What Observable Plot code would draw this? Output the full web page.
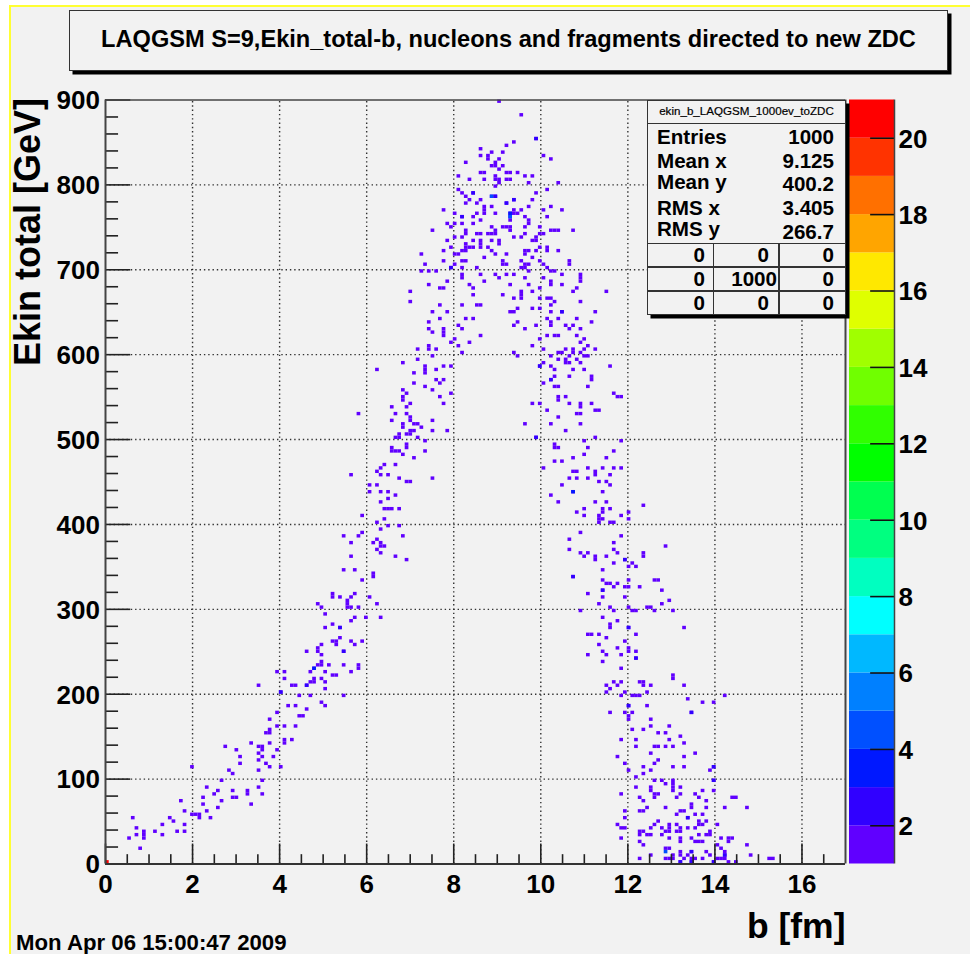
<!DOCTYPE html>
<html><head><meta charset="utf-8">
<script src="https://cdn.jsdelivr.net/npm/d3@7"></script>
<script src="https://cdn.jsdelivr.net/npm/@observablehq/plot@0.6"></script>
<style>
html,body{margin:0;padding:0;background:#fff}
#page{position:relative;width:970px;height:954px;overflow:hidden;background:#f2f2f2;font-family:"Liberation Sans",Arial,sans-serif;font-weight:bold;color:#000}
#page svg{position:absolute;left:0;top:0;background:transparent}
.abs{position:absolute;white-space:nowrap}
.bg{position:absolute;background:#fff}
.yl{position:absolute;background:#ffff33}
.box{position:absolute;background:#f2f2f2;border:1.5px solid #333;box-shadow:3.5px 3.5px 0 #000;box-sizing:border-box}
.line{position:absolute;background:#333}
</style></head><body><div id="page"></div>
<script>
// Ekin total vs b histogram cells as [b (fm), Ekin (GeV)] flat pairs
const lowLeft = [0.63,53,.71,41,.54,30,.71,34,.88,37,.88,32,.88,28,.80,17,1.13,37,1.31,46,1.31,34,1.48,53,1.56,50,1.66,37,1.82,46,1.82,37,1.82,62,1.73,74,1.99,58,2.08,58,2.16,58,2.16,53,2.25,78,2.25,69,2.34,62,2.42,53,2.34,90,2.51,81,2.59,85,2.59,66,2.67,74,2.67,98,2.93,85,2.93,78,3.02,78,3.27,85,3.27,81,3.36,69,3.50,90,3.59,81,3.59,98,1.99,114,2.76,138,2.85,110,2.93,106,3.02,133,3.10,126,3.10,118,3.36,142,3.50,138,3.59,138,3.59,133,3.50,130,3.59,126,3.50,122,3.50,110,3.67,118,3.75,114,3.84,126,3.93,133,3.75,142,4.02,114,4.10,146,4.10,142,4.27,146,4.36,161,4.10,161,3.93,161,3.67,154,3.75,154,3.75,157,3.75,170,3.93,177,4.18,186,4.36,186,4.61,182,4.44,174,4.53,174,4.95,190,5.04,186];
const midLeft = [5.47,346,5.72,346,6.15,342,6.15,338,5.89,334,5.21,318,5.21,314,5.38,314,5.63,314,5.72,318,6.06,314,5.55,310,5.55,306,5.55,302,5.63,302,4.87,306,4.96,302,5.81,302,6.23,306,5.04,294,5.72,290,5.98,290,6.32,290,5.63,286,5.21,282,5.04,278,5.38,278,5.38,266,5.21,262,5.30,262,5.30,258,5.63,262,5.72,258,5.89,262,4.96,257,4.87,253,4.87,249,4.61,250,5.47,250,4.96,246,4.96,238,4.87,234,4.96,234,5.13,234,5.47,234,5.81,234,5.81,230,4.78,230,3.93,225,4.10,225,4.70,225,5.04,225,5.63,225,4.10,218,4.78,218,4.78,214,4.70,214,4.96,218,5.04,214,5.21,222,5.30,222,3.50,209,4.27,209,4.35,209,4.61,209,5.04,206,4.02,202,4.44,198,4.70,198,5.47,198];
const upperLeft = [7.52,626,7.77,626,7.77,623,8.02,618,7.95,614,8.11,611,8.37,614,8.63,623,7.18,606,7.43,611,7.43,606,7.60,606,8.20,602,7.52,598,7.18,594,6.84,590,7.35,586,7.35,582,7.35,578,6.24,582,7.10,578,7.60,582,7.77,586,7.95,586,7.10,566,7.60,570,7.69,566,7.77,570,7.35,562,7.52,558,6.84,558,6.92,554,7.95,554,6.84,550,6.84,546,7.69,550,7.00,542,7.77,542,6.58,538,6.92,538,6.67,530,6.92,530,5.81,530,7.00,526,7.00,522,6.58,522,7.52,522,6.84,518,6.84,514,7.09,518,7.18,518,7.26,514,7.00,510,7.09,510,6.92,507,7.00,507,7.52,510,7.86,510,6.75,506,6.75,503,6.67,502,7.18,502,7.35,498,6.92,494,6.92,490,6.58,490,6.58,487,6.67,487,6.75,487,7.35,487,6.84,482,7.10,478,6.41,471,6.67,471,6.32,466,6.24,462,5.64,458,6.32,458,6.49,458,6.75,454,7.52,454,6.92,450,7.00,450,6.06,446,6.24,446,6.06,438,6.32,438,6.49,438,6.67,434,6.49,430,6.32,426,6.41,418,6.49,418,6.58,418,6.75,418,5.89,410,6.41,406,6.24,402,6.49,398,6.75,398,6.32,394,5.89,390,5.81,386,5.47,386,6.84,386,5.64,378,6.15,378,6.24,381,6.32,377,6.32,374,6.41,374,6.24,370,6.32,365,5.64,362,6.67,362,6.92,358];
const upperRight = [9.36,602,9.45,598,9.79,611,9.96,618,10.14,623,10.31,623,10.39,623,10.82,623,10.99,618,10.90,614,11.07,611,10.05,606,11.25,606,10.57,606,10.74,606,10.74,602,10.39,602,10.48,602,10.90,602,10.99,606,10.22,598,10.65,598,10.99,598,11.07,598,10.39,594,10.57,594,10.57,590,10.65,590,10.82,594,10.90,590,10.05,590,9.96,586,10.22,586,10.31,582,10.74,582,10.99,582,11.59,586,10.31,574,10.65,574,11.16,574,11.16,570,10.22,570,10.05,566,10.31,562,10.39,562,11.07,562,11.67,554,11.76,550,11.84,550,10.57,550,10.39,550,10.39,546,9.79,542,9.96,542,10.65,542,10.90,542,10.90,538,11.16,542,10.14,534,11.25,534,11.33,534,10.82,530,10.90,530,10.39,526,9.62,518,10.22,518,10.90,518,10.57,510,9.88,502,11.25,502,10.99,498,11.84,498,10.31,494,10.31,490,10.39,490,11.07,490,11.67,487,10.99,482,10.74,478,11.50,478,10.31,474,10.48,474,10.05,466,11.07,466,11.42,466,11.67,466,11.84,466,10.74,462,10.82,462,11.25,462,11.25,458,11.59,458,10.65,454,10.82,454,11.07,454,11.33,450,11.50,450,11.59,446,10.48,446,10.74,438,11.42,438,10.22,434,10.39,426,11.25,426,11.50,426,12.35,422,10.99,418,11.42,418,11.42,414,11.59,418,10.82,414,10.99,410,11.84,410,12.01,414,11.33,410,11.33,406,11.33,402,11.42,406,12.01,406,11.59,402,11.67,402,10.90,390,11.84,386,10.65,381,11.67,378,12.87,374,10.65,370,11.67,370,10.90,365,11.07,365,10.99,362,11.76,365,12.35,365,12.35,362,11.25,362,11.25,358,11.50,362,11.93,358];
const peak = [9.04,899,9.54,883,9.89,855,9.37,851,9.20,847,8.63,843,8.89,839,9.11,839,8.63,835,8.80,835,8.80,831,10.05,835,10.22,831,9.04,831,8.29,827,8.97,827,8.89,822,8.97,822,9.11,822,9.04,819,8.63,815,8.71,815,9.20,815,9.28,815,9.46,815,8.11,811,8.97,811,8.97,807,9.62,811,9.80,811,8.38,806,8.71,806,9.04,806,9.04,802,9.20,806,9.28,806,9.71,802,10.39,802,8.97,799,8.11,795,10.14,795,8.20,790,8.46,790,9.89,790,8.29,786,8.89,786,8.97,786,8.38,783,8.63,783,9.80,783,8.29,778,8.54,778,9.20,778,9.37,783,8.71,774,8.71,770,8.71,767,8.89,774,9.71,774,10.22,774,7.77,771,9.37,771,9.54,771,10.05,771,10.48,771,8.03,767,8.54,767,8.97,767,9.28,767,9.37,767,9.46,767,9.28,763,9.28,759,8.20,763,8.46,763,9.62,763,10.14,763,8.63,758,9.71,758,9.71,755,7.85,755,8.03,755,8.20,755,8.46,755,8.89,751,9.11,751,9.20,751,9.28,751,7.95,751,9.62,751,9.97,751,7.52,747,8.29,747,8.29,743,9.28,747,10.22,747,10.31,747,10.39,747,10.74,747,8.54,743,8.63,743,8.80,743,8.89,743,8.97,743,8.97,746,9.62,743,9.97,743,10.05,743,8.03,739,8.20,739,9.37,739,9.54,739,9.89,739,8.63,734,8.63,730,8.63,727,8.46,734,7.85,734,8.89,734,9.04,734,9.04,730,9.80,734,9.89,734,8.29,730,8.29,726,8.38,727,8.46,727,7.95,727,8.80,727,9.97,727,10.14,726,10.14,723,7.78,723,8.20,723,8.29,723,8.89,723,9.62,723,9.71,723,10.39,723,9.89,723,9.62,719,8.03,719,8.11,719,8.97,719,9.20,719,7.26,719,8.71,715,9.80,715,8.20,711,8.29,711,7.77,711,9.11,710,9.11,707,9.20,707,9.54,711,9.97,711,10.65,710,10.65,707,9.62,707,9.71,707,10.05,707,7.34,707,8.03,707,7.95,702,8.20,702,8.54,702,9.54,702,9.62,702,10.14,702,7.26,698,7.43,698,7.61,698,10.22,698,10.31,698,9.71,698,8.20,694,8.20,690,8.63,694,8.97,694,9.20,694,9.37,694,10.48,694,9.04,690,9.62,690,10.05,690,10.90,694,10.90,690,10.90,686,7.86,686,8.71,686,10.22,686,10.22,683,7.43,682,8.38,682,9.28,682,9.71,682,10.48,682,7.69,679,7.77,679,8.46,679,9.97,679,10.82,679,9.80,675,10.74,675,11.51,675,7.00,675,9.54,675,9.54,671,9.54,667,8.46,670,9.11,670,9.37,666,9.97,666,10.14,666,10.22,666,10.31,663,7.00,663,10.90,663,7.69,659,8.20,659,8.54,659,8.63,659,10.22,659,7.52,650,7.86,650,9.28,650,9.37,650,9.46,654,9.80,654,9.97,654,10.48,650,10.22,650,11.25,650,7.69,643,8.29,643,8.46,643,10.14,643,10.39,643,10.82,643,7.43,638,9.46,638,10.22,638,10.22,634,11.16,638,8.11,634,9.37,634,9.89,634,10.57,634,10.74,634,7.43,630,8.20,630,7.77,628,9.62,630,10.65,630,10.90,630];
const midRight = [11.68,354,12.10,354,12.02,350,12.19,350,11.42,346,10.74,338,11.42,334,11.50,330,11.59,330,11.76,330,12.02,334,12.61,334,12.70,334,11.68,326,11.93,326,12.02,326,12.28,326,11.08,318,11.42,322,11.42,314,11.93,314,12.79,322,12.96,310,11.33,306,12.79,306,11.59,302,12.02,302,12.44,302,12.53,302,10.91,298,11.68,298,12.10,298,12.19,298,12.61,298,13.04,298,11.42,290,11.76,286,11.59,282,11.59,278,12.02,278,13.30,278,11.08,270,11.17,270,11.33,270,12.19,270,11.50,266,11.93,262,11.33,257,11.76,253,12.02,253,12.02,250,12.19,250,11.42,250,11.50,246,11.08,246,11.85,246,12.19,242,11.42,238,11.85,230,13.04,221,13.04,217,11.68,213,11.85,213,12.28,213,12.36,213,12.36,209,12.53,209,13.30,209,11.50,209,11.76,209,11.59,205,11.50,202,11.93,202,12.44,202,11.85,198,12.10,198,12.19,198,12.28,198,14.24,198];
const lowRight = [13.39,193,13.72,190,13.98,190,12.02,186,12.44,186,11.59,177,11.93,177,12.10,177,12.02,173,12.02,170,13.46,177,12.53,170,12.10,157,12.36,157,12.53,161,12.96,161,12.70,154,12.87,154,13.21,149,11.85,145,12.19,145,12.96,145,13.30,142,12.19,138,12.61,138,12.70,138,12.87,138,13.04,138,12.53,130,13.56,130,11.76,126,13.30,126,12.70,122,12.61,118,11.93,118,12.36,114,13.04,114,13.30,114,13.98,114,13.89,110,12.02,110,12.53,110,12.36,106,12.19,101,12.61,98,12.79,98,13.04,98,13.04,94,13.04,90,13.04,85,12.87,94,13.98,98,12.19,90,12.53,90,12.53,85,13.21,90,13.72,85,13.98,85,13.21,81,11.85,81,12.28,78,12.61,81,12.61,78,12.70,81,13.13,78,13.56,81,13.64,78,12.36,74,13.81,74,14.40,78,14.49,78,13.46,69,13.46,66,13.81,66,12.44,66,12.87,66,14.24,66,14.74,66,12.28,62,12.36,62,13.21,62,13.30,62,11.93,62,13.13,58,13.56,58,13.72,58,13.39,53,11.93,53,12.70,49,13.64,49,13.81,49,11.76,46,12.61,46,13.64,46,13.72,46,12.96,46,13.13,46,14.06,46,11.85,41,11.93,41,12.53,41,12.79,41,12.96,41,13.21,41,13.39,41,13.56,41,12.96,37,12.87,37,13.13,37,13.21,37,12.28,37,12.36,37,13.89,37,12.28,34,12.44,34,12.53,34,12.79,34,13.89,34,13.81,34,13.64,34,11.85,30,12.96,30,13.21,30,13.21,26,13.46,30,14.15,30,14.32,30,14.40,30,14.32,26,12.28,26,13.56,26,13.64,26,13.72,26,12.36,21,14.06,21,14.74,21,12.87,17,12.96,17,14.15,17,13.21,14,13.46,14,13.81,14,14.24,13,14.24,9,12.53,9,13.04,9,13.39,9,13.89,9,14.81,9,13.21,9,12.28,5,12.87,5,12.96,5,13.04,5,13.30,5,13.46,5,13.56,5,13.72,5,14.06,5,14.15,5,14.24,5,15.23,5,15.31,5,13.21,2,13.46,2,13.98,2,14.32,2,14.49,2];
// cells that show a colour above the lowest level: [b, Ekin, count]
const hotterCells = [[0.04,2,21],[12.87,13,4],[8.89,786,4],[9.28,763,4],[9.28,767,3],[9.89,855,2],[8.97,786,2],[8.46,790,2],[9.20,778,2],[9.37,783,2],[8.20,763,2],[7.95,702,2],[10.48,650,2],[12.02,186,2],[13.46,177,2],[13.98,114,2],[13.98,98,2],[13.39,53,2],[13.46,14,2],[14.24,9,2],[13.21,2,2],[13.46,2,2],[13.98,2,2],[12.02,278,2],[12.19,242,2],[11.42,322,2],[10.74,338,2],[10.74,438,3],[10.22,570,2],[9.96,586,2],[9.88,502,2],[11.93,358,2],[4.78,230,3],[5.47,250,2],[5.38,278,2],[4.02,202,2],[4.61,209,2]];

const binB = 0.085, binE = 4;
const majorB = [0,2,4,6,8,10,12,14,16];
const minorB = [0.5,1,1.5,2.5,3,3.5,4.5,5,5.5,6.5,7,7.5,8.5,9,9.5,10.5,11,11.5,12.5,13,13.5,14.5,15,15.5,16.5];
const majorE = [0,100,200,300,400,500,600,700,800,900];
const minorE = d3.range(20,900,20).filter(v=>v%100!==0);
const levelColors = ["#6000ff","#3000ff","#0018ff","#0050ff","#0080ff","#00b8ff","#00ffff","#00ffc0","#00ff80","#00ff50","#00ff00","#30ff00","#70ff00","#a0ff00","#dfff00","#ffe800","#ffa500","#ff7000","#ff3300","#ff0000"];
const levelEdges = d3.range(2,21);
const barTicks = [2,4,6,8,10,12,14,16,18,20];

const titleText = "LAQGSM S=9,Ekin_total-b, nucleons and fragments directed to new ZDC";
const statsName = "ekin_b_LAQGSM_1000ev_toZDC";
const statLabels = ["Entries","Mean x","Mean y","RMS x","RMS y"];
const statValues = ["1000","9.125","400.2","3.405","266.7"];
const statLabelY = [136.5,160.5,181.5,208,229];
const statValueY = [136.5,160.5,183.5,208,232];
const tableRows = [["0","0","0"],["0","1000","0"],["0","0","0"]];
const dateText = "Mon Apr 06 15:00:47 2009";

const pairs = a => d3.range(0,a.length,2).map(i=>({b:a[i],e:a[i+1],n:1}));
const cells = [lowLeft,midLeft,upperLeft,upperRight,peak,midRight,lowRight].flatMap(pairs)
  .concat(hotterCells.map(([b,e,n])=>({b,e,n})));
const xL = d=>Math.floor(d.b/binB+1e-6)*binB, yL = d=>Math.min(Math.floor(d.e/binE),224)*binE;

const page = document.getElementById("page");
const font = '"Liberation Sans",Arial,sans-serif';
const colorScale = {type:"threshold",domain:levelEdges,range:levelColors};

const main = Plot.plot({
  width:970,height:954,marginLeft:105,marginRight:125,marginTop:99.5,marginBottom:90.5,
  style:{background:"transparent",fontFamily:font,overflow:"visible"},
  x:{domain:[0,17],axis:null},y:{domain:[0,900],axis:null},color:colorScale,
  marks:[
    Plot.ruleX(majorB.slice(1),{y1:0,y2:900,stroke:"#000",strokeWidth:1.4,strokeDasharray:"1.4,2.9",strokeOpacity:.8}),
    Plot.ruleY(majorE.slice(1,-1),{x1:0,x2:17,stroke:"#000",strokeWidth:1.4,strokeDasharray:"1.4,2.9",strokeOpacity:.8}),
    Plot.rect(cells,{x1:d=>xL(d),x2:d=>xL(d)+binB,y1:d=>yL(d),y2:d=>yL(d)+binE,fill:"n"}),
    Plot.ruleX(majorB,{y1:0,y2:23.5,stroke:"#222",strokeWidth:1.6}),
    Plot.ruleX(minorB,{y1:0,y2:11,stroke:"#222",strokeWidth:1.6}),
    Plot.ruleY(majorE,{x1:0,x2:0.58,stroke:"#222",strokeWidth:1.6}),
    Plot.ruleY(minorE,{x1:0,x2:0.3,stroke:"#222",strokeWidth:1.6}),
    Plot.ruleY([900],{x1:0,x2:17,stroke:"#444",strokeWidth:1.5}),
    Plot.ruleY([0],{x1:0,x2:17,stroke:"#333",strokeWidth:2}),
    Plot.ruleX([0,17],{y1:0,y2:900,stroke:"#444",strokeWidth:2}),
    Plot.text(majorB,{x:d=>d,y:0,dy:21,text:d=>String(d),fontSize:26,fontWeight:"bold",fill:"#000"}),
    Plot.text(majorE,{x:0,y:d=>d,dx:-5.5,dy:1,text:d=>String(d),textAnchor:"end",fontSize:26,fontWeight:"bold",fill:"#000"}),
    Plot.text(["Ekin total [GeV]"],{frameAnchor:"top-left",rotate:-90,dx:-91,dy:-2,textAnchor:"end",fontSize:36,fontWeight:"bold",fill:"#000"}),
    Plot.text(["b [fm]"],{frameAnchor:"bottom-right",dx:0,dy:74,textAnchor:"end",fontSize:35.5,fontWeight:"bold",fill:"#000"})
  ]
});

const bar = Plot.plot({
  width:970,height:954,marginLeft:849,marginRight:76,marginTop:99.5,marginBottom:90.5,
  style:{background:"transparent",fontFamily:font,overflow:"visible"},
  x:{domain:[0,1],axis:null},y:{domain:[1,21],axis:null},
  marks:[
    Plot.rect(levelColors,{x1:0,x2:1,y1:(d,i)=>i+1,y2:(d,i)=>i+2,fill:d=>d}),
    Plot.ruleY(barTicks,{x1:0.47,x2:1,stroke:"#111",strokeWidth:1.6}),
    Plot.ruleX([1],{y1:1,y2:21,stroke:"#444",strokeWidth:1.5}),
    Plot.text(barTicks,{x:1,y:d=>d,dx:4,dy:1,text:d=>String(d),textAnchor:"start",fontSize:26,fontWeight:"bold",fill:"#000"})
  ]
});

function div(cls,css,txt){const e=document.createElement("div");e.className=cls;Object.assign(e.style,css);if(txt!=null)e.textContent=txt;page.appendChild(e);return e;}
// page frame
div("bg",{left:"0",top:"0",width:"970px",height:"5px"});
div("bg",{left:"0",top:"0",width:"9px",height:"954px"});
div("yl",{left:"9px",top:"5px",width:"961px",height:"2px"});
div("yl",{left:"9px",top:"5px",width:"2px",height:"949px"});
page.appendChild(main);
page.appendChild(bar);
// title box
div("box",{left:"69px",top:"10px",width:"879px",height:"61px"});
div("abs",{left:"69px",top:"10px",width:"879px",lineHeight:"58px",textAlign:"center",fontSize:"23.6px"},titleText);
// stats box
div("box",{left:"647px",top:"99.5px",width:"199px",height:"215px"});
div("abs",{left:"647px",top:"100px",width:"199px",lineHeight:"22px",textAlign:"center",fontSize:"11.6px",fontWeight:"normal",WebkitTextStroke:"0.2px #000"},statsName);
div("line",{left:"647px",top:"122.5px",width:"199px",height:"1.5px"});
div("line",{left:"647px",top:"242.5px",width:"199px",height:"1.5px"});
div("line",{left:"647px",top:"266px",width:"199px",height:"1.5px"});
div("line",{left:"647px",top:"290px",width:"199px",height:"1.5px"});
div("line",{left:"712.5px",top:"243px",width:"1.5px",height:"71px"});
div("line",{left:"778px",top:"243px",width:"1.5px",height:"71px"});
const fs="20.6px";
statLabels.forEach((t,i)=>div("abs",{left:"657px",top:(statLabelY[i]-12)+"px",lineHeight:"24px",fontSize:fs},t));
statValues.forEach((t,i)=>div("abs",{right:(970-834)+"px",top:(statValueY[i]-12)+"px",lineHeight:"24px",fontSize:fs},t));
const rowY=[255,279,303],colR=[705,769,834];
tableRows.forEach((r,i)=>r.forEach((t,j)=>div("abs",{right:(970-(t==="1000"?777:colR[j]))+"px",top:(rowY[i]-12)+"px",lineHeight:"24px",fontSize:fs},t)));
div("abs",{left:"16px",top:"931px",lineHeight:"24px",fontSize:"22.2px"},dateText);
</script></body></html>
